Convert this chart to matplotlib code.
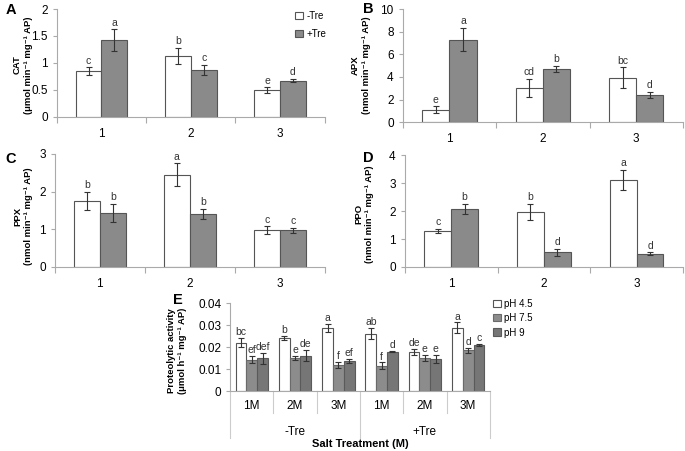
import numpy as np
import matplotlib
matplotlib.use("Agg")
import matplotlib.pyplot as plt

plt.rcParams['font.family'] = ['Liberation Sans', 'DejaVu Sans']

cats = ['1', '2', '3']

# panel A-D: -Tre / +Tre means, errors, letters
cat_minus = [0.85, 1.13, 0.50]
cat_minus_err = [0.07, 0.15, 0.05]
cat_plus = [1.42, 0.87, 0.67]
cat_plus_err = [0.20, 0.09, 0.03]
cat_let_minus = ['c', 'b', 'e']
cat_let_plus = ['a', 'c', 'd']

apx_minus = [1.1, 3.05, 3.95]
apx_minus_err = [0.3, 0.8, 0.9]
apx_plus = [7.3, 4.72, 2.4]
apx_plus_err = [1.05, 0.25, 0.3]
apx_let_minus = ['e', 'cd', 'bc']
apx_let_plus = ['a', 'b', 'd']

ppx_minus = [1.75, 2.45, 0.98]
ppx_minus_err = [0.25, 0.3, 0.1]
ppx_plus = [1.43, 1.41, 0.97]
ppx_plus_err = [0.25, 0.13, 0.06]
ppx_let_minus = ['b', 'a', 'c']
ppx_let_plus = ['b', 'b', 'c']

ppo_minus = [1.3, 1.97, 3.12]
ppo_minus_err = [0.07, 0.28, 0.35]
ppo_plus = [2.08, 0.53, 0.47]
ppo_plus_err = [0.18, 0.12, 0.05]
ppo_let_minus = ['c', 'b', 'a']
ppo_let_plus = ['b', 'd', 'd']

# panel E
e_cats = ['1M', '2M', '3M', '1M', '2M', '3M']
e_groups = ['-Tre', '+Tre']
ph45 = [0.0220, 0.0240, 0.0287, 0.0260, 0.0177, 0.0287]
ph45_err = [0.0020, 0.0010, 0.0020, 0.0025, 0.0015, 0.0025]
ph75 = [0.0143, 0.0150, 0.0118, 0.0115, 0.0151, 0.0185]
ph75_err = [0.0015, 0.0008, 0.0015, 0.0015, 0.0015, 0.0010]
ph9 = [0.0150, 0.0160, 0.0137, 0.0179, 0.0146, 0.0210]
ph9_err = [0.0025, 0.0025, 0.0010, 0.0003, 0.0020, 0.0005]
ph45_let = ['bc', 'b', 'a', 'ab', 'de', 'a']
ph75_let = ['ef', 'e', 'f', 'f', 'e', 'd']
ph9_let = ['def', 'de', 'ef', 'd', 'e', 'c']

edge = '#555555'
spine_c = '#aaaaaa'
grey = '#8a8a8a'
W, H = 685, 451

fig = plt.figure(figsize=(6.85, 4.51), dpi=100)


def px(x, y):
    return x / W, 1 - y / H


def style(ax):
    for s in ['top', 'right']:
        ax.spines[s].set_visible(False)
    ax.spines['left'].set_color(spine_c)
    ax.spines['bottom'].set_color(spine_c)
    ax.tick_params(axis='y', colors=spine_c, labelcolor='black', labelsize=8.5, length=3, width=0.8)


def ylab(text, x, y):
    fig.text(*px(x, y), text, rotation=90, ha='center', va='center', fontsize=6.8,
             fontweight='bold', linespacing=1.25, multialignment='center')


def panel(rect, minus, merr, plus, perr, lm, lp, ymax, step, fmt=None):
    ax = fig.add_axes(rect)
    style(ax)
    x = np.arange(len(cats))
    w = 0.29
    ekw = dict(ecolor='#333333', elinewidth=0.8, capsize=2, capthick=0.8)
    ax.bar(x - w / 2, minus, w, yerr=merr, color='white', edgecolor=edge, linewidth=0.8, error_kw=ekw, label='-Tre')
    ax.bar(x + w / 2, plus, w, yerr=perr, color=grey, edgecolor=edge, linewidth=0.8, error_kw=ekw, label='+Tre')
    off = ymax * 0.015
    for i in range(len(cats)):
        ax.text(x[i] - w / 2, minus[i] + merr[i] + off, lm[i], ha='center', va='bottom', fontsize=7.5, color='#333333')
        ax.text(x[i] + w / 2, plus[i] + perr[i] + off, lp[i], ha='center', va='bottom', fontsize=7.5, color='#333333')
    ax.set_xlim(-0.5, len(cats) - 0.5)
    ax.set_ylim(0, ymax)
    ticks = np.arange(0, ymax + step / 2, step)
    ax.set_yticks(ticks)
    if fmt:
        ax.set_yticklabels([fmt(v) for v in ticks])
    ax.set_xticks(x)
    ax.set_xticklabels(cats, fontsize=8.5)
    ax.tick_params(axis='x', length=0, pad=8)
    ax.set_xticks(np.arange(-0.5, len(cats), 1.0), minor=True)
    ax.tick_params(axis='x', which='minor', length=4, colors=spine_c, width=0.8)
    return ax


def fmt_cat(v):
    return '0' if v == 0 else ('%g' % v)


sup = '\u207b\u00b9'
axA = panel([0.083, 0.741, 0.391, 0.239], cat_minus, cat_minus_err, cat_plus, cat_plus_err,
            cat_let_minus, cat_let_plus, 2, 0.5, fmt_cat)
axA.legend(loc='upper left', bbox_to_anchor=px(286, 2), bbox_transform=fig.transFigure, frameon=False,
           fontsize=7, handlelength=0.8, handleheight=0.8, labelspacing=0.85, handletextpad=0.4)
axB = panel([0.588, 0.729, 0.409, 0.251], apx_minus, apx_minus_err, apx_plus, apx_plus_err,
            apx_let_minus, apx_let_plus, 10, 2)
axC = panel([0.080, 0.408, 0.394, 0.251], ppx_minus, ppx_minus_err, ppx_plus, ppx_plus_err,
            ppx_let_minus, ppx_let_plus, 3, 1)
axD = panel([0.591, 0.408, 0.406, 0.248], ppo_minus, ppo_minus_err, ppo_plus, ppo_plus_err,
            ppo_let_minus, ppo_let_plus, 4, 1)

ylab('CAT\n(μmol min' + sup + ' mg' + sup + ' AP)', 23, 65)
ylab('APX\n(nmol min' + sup + ' mg' + sup + ' AP)', 361, 65)
ylab('PPX\n(nmol min' + sup + ' mg' + sup + ' AP)', 23, 216)
ylab('PPO\n(nmol min' + sup + ' mg' + sup + ' AP)', 364, 214)
ylab('Proteolytic activity\n(μmol h' + sup + ' mg' + sup + ' AP)', 177, 351)

for lt, (lx, ly) in zip(['A', 'B', 'C', 'D', 'E'], [(11, 10), (368, 9), (11, 159), (368, 158), (178, 300)]):
    fig.text(*px(lx, ly), lt, fontsize=10.5, fontweight='bold', ha='center', va='center')

# panel E
axE = fig.add_axes([0.336, 0.133, 0.379, 0.195])
style(axE)
x = np.arange(len(e_cats)) + 0.5
w = 0.25
ekw = dict(ecolor='#333333', elinewidth=0.8, capsize=2, capthick=0.8)
axE.bar(x - w, ph45, w, yerr=ph45_err, color='white', edgecolor=edge, linewidth=0.8, error_kw=ekw, label='pH 4.5')
axE.bar(x, ph75, w, yerr=ph75_err, color='#8c8c8c', edgecolor='#6a6a6a', linewidth=0.8, error_kw=ekw, label='pH 7.5')
axE.bar(x + w, ph9, w, yerr=ph9_err, color='#767676', edgecolor='#5a5a5a', linewidth=0.8, error_kw=ekw, label='pH 9')
for i in range(len(e_cats)):
    axE.text(x[i] - w, ph45[i] + ph45_err[i] + 0.0004, ph45_let[i], ha='center', va='bottom', fontsize=7.5, color='#333333')
    axE.text(x[i], ph75[i] + ph75_err[i] + 0.0004, ph75_let[i], ha='center', va='bottom', fontsize=7.5, color='#333333')
    axE.text(x[i] + w, ph9[i] + ph9_err[i] + 0.0004, ph9_let[i], ha='center', va='bottom', fontsize=7.5, color='#333333')
axE.set_xlim(0, len(e_cats))
axE.set_ylim(0, 0.04)
yt = [0, 0.01, 0.02, 0.03, 0.04]
axE.set_yticks(yt)
axE.set_yticklabels(['0', '0.01', '0.02', '0.03', '0.04'])
axE.set_xticks([])
# category table below the axis
trans = axE.get_xaxis_transform()
for i, lab in enumerate(e_cats):
    axE.text(i + 0.5, -0.17, lab, transform=trans, ha='center', va='center', fontsize=8.5)
for b in range(len(e_cats) + 1):
    low = -0.53 if b in (0, 3, 6) else -0.25
    axE.plot([b, b], [0, low], transform=trans, color='#cccccc', lw=0.8, clip_on=False)
for g, lab in enumerate(e_groups):
    axE.text(g * 3 + 1.5, -0.47, lab, transform=trans, ha='center', va='center', fontsize=8.5)
axE.text(3, -0.6, 'Salt Treatment (M)', transform=trans, ha='center', va='center', fontsize=8, fontweight='bold')
axE.legend(loc='upper left', bbox_to_anchor=px(484, 290), bbox_transform=fig.transFigure, frameon=False,
           fontsize=7, handlelength=0.8, handleheight=0.8, labelspacing=0.45, handletextpad=0.4)

fig.savefig('out.png', dpi=100)
